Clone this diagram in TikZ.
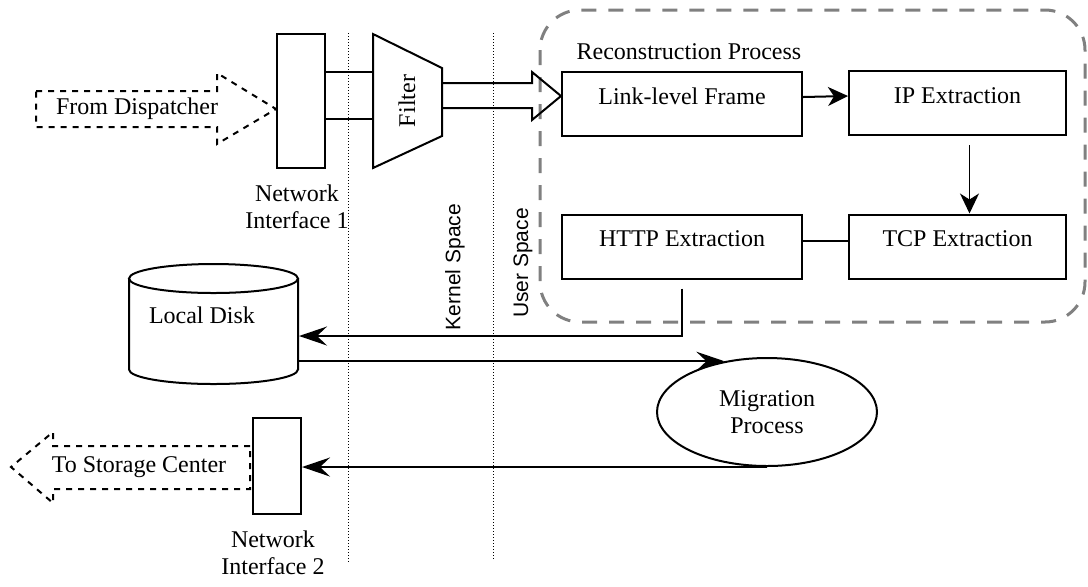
\documentclass[tikz,border=0pt]{standalone}
\usepackage{fontspec}
\setmainfont{Liberation Serif}
\setsansfont{Liberation Sans}
\usetikzlibrary{arrows.meta}
\usetikzlibrary{shapes.geometric}
\usetikzlibrary{positioning}
\tikzstyle{procbox}=[rectangle, draw, line width=1pt, minimum width=120pt, minimum height=32pt, inner sep=0pt, text height=8.5pt, text depth=8.5pt]
\tikzstyle{nicbox}=[rectangle, draw, line width=1pt, minimum width=24pt, inner sep=0pt]
\tikzstyle{spacelbl}=[font=\sffamily\fontsize{10.5}{12}\selectfont, rotate=90]
\tikzstyle{boundary}=[line width=0.5pt, dash pattern=on 0.5pt off 1pt]
\tikzset{>={Stealth[length=14pt, width=9.5pt, inset=5pt]}}
\tikzset{small arrow/.style={-{Stealth[length=10pt, width=9.5pt, inset=3pt]}}}

\begin{document}
\begin{tikzpicture}[x=0.5pt, y=-0.5pt, font=\fontsize{12}{13.5}\selectfont, line width=1pt]
\useasboundingbox (0,0) rectangle (1088,586);

% kernel / user boundaries
\draw[boundary] (348,33) -- (348,562);
\draw[boundary] (493,33) -- (493,560);
\node[spacelbl] (kspace) at (455,267) {Kernel Space};
\node[spacelbl] (uspace) at (523,263) {User Space};

% reconstruction process
\draw[gray, dash pattern=on 7.5pt off 6pt, line width=1.5pt, rounded corners=20pt] (540,10) rectangle (1085,322);
\node[anchor=west] (recon) at (569,52) {Reconstruction Process};
\node[procbox] (lf) at (682,104) {Link-level Frame};
\node[procbox, minimum width=108.5pt] (ip) at (957.5,103) {IP Extraction};
\node[procbox, minimum width=108.5pt] (tcp) at (957.5,246.5) {TCP Extraction};
\node[procbox] (http) at (682,246.5) {HTTP Extraction};

\draw[small arrow] ([yshift=3.5pt]lf.east) -- ([yshift=3.5pt]ip.west);
\draw[small arrow, line width=0.7pt] ([xshift=6pt, yshift=-4.5pt]ip.south) -- ([xshift=6pt]tcp.north);
\draw ([yshift=3pt]http.east) -- ([yshift=3pt]tcp.west);

% network interface 1 and filter
\node[nicbox, minimum height=67pt] (ni1) at (301,101) {};
\node[below=4pt of ni1, xshift=-2pt, align=center] (ni1lbl) {Network\\Interface 1};
\draw (373,34) coordinate (fnw) -- (442,68) coordinate (fne) -- (442,136) coordinate (fse) -- (373,168) coordinate (fsw) -- cycle;
\node[rotate=90] (filter) at (407,101) {Filter};
\draw (ni1.east |- 0,72) -- (fnw |- 0,72);
\draw (ni1.east |- 0,119) -- (fnw |- 0,119);
\draw (fne |- 0,83) -- (532,83) -- (532,72) -- (lf.west |- 0,96) -- (532,120) -- (532,108) -- (fse |- 0,108);

% incoming traffic
\draw[dashed] (36,91) -- (217,91) -- (217,73) -- (ni1.west |- 0,109) -- (217,144) -- (217,127) -- (36,127) -- cycle;
\node (disp) at (137,109) {From Dispatcher};

% local disk
\node[minimum width=84.5pt, minimum height=60pt, inner sep=0pt] (disk) at (213.5,324) {};
\draw (129,278.5) -- (129,369.5) arc[start angle=180, end angle=0, x radius=84.5, y radius=14.5] -- (298,278.5);
\draw (213.5,278.5) ellipse [x radius=84.5, y radius=14.5];
\node (dsklbl) at (202,315) {Local Disk};

% migration
\node[ellipse, draw, minimum width=110pt, minimum height=54pt, align=center, inner sep=0pt] (migr) at (767,412) {Migration\\Process};
\draw[->] ([yshift=-4.5pt]http.south) |- ([yshift=-6pt]disk.east);
\draw[->] (disk.east |- migr.130) -- (migr.130);

% network interface 2
\node[nicbox, minimum height=48pt] (ni2) at (277,466) {};
\node[below=4pt of ni2, xshift=-2pt, align=center] (ni2lbl) {Network\\Interface 2};
\draw[->] (migr.south) -- (migr.south -| ni2.east);

% outgoing traffic
\draw[dashed] (250,446) -- (53,446) -- (53,432) -- (11,467) -- (53,503) -- (53,489) -- (250,489) -- cycle;
\node (tostore) at (139,467) {To Storage Center};

\end{tikzpicture}
\end{document}
